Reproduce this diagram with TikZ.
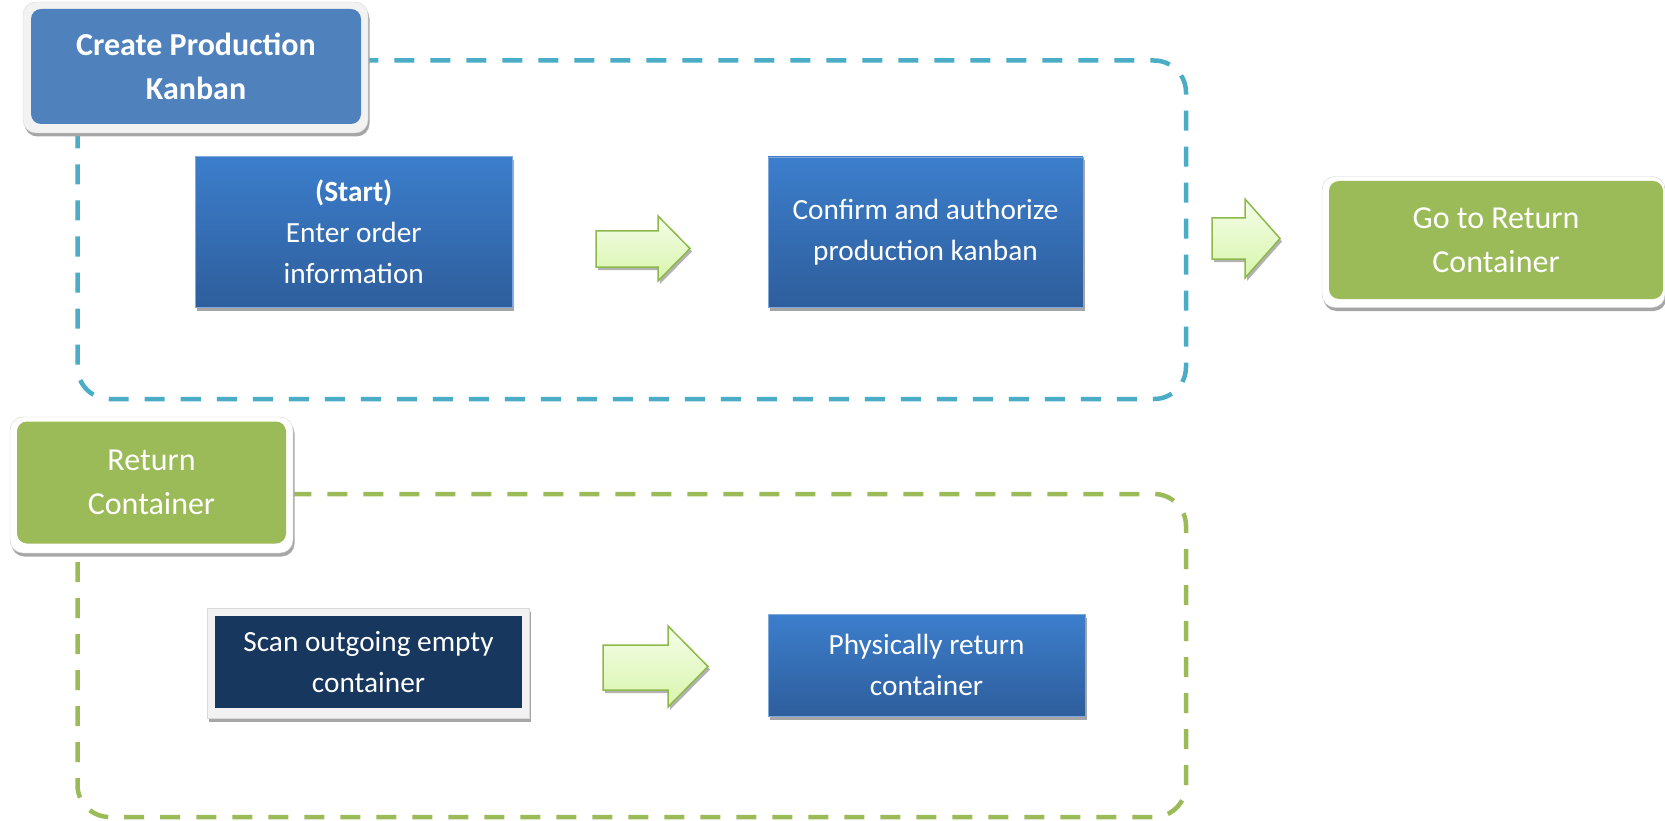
\documentclass[tikz,border=0pt]{standalone}
\usepackage{fontspec}
\setmainfont{Carlito}
\usetikzlibrary{shadows}
\definecolor{dashblue}{HTML}{4BACC6}
\definecolor{dashgreen}{HTML}{9BBB59}
\definecolor{hdrblue}{HTML}{4F81BD}
\definecolor{procTop}{HTML}{3C7ECC}
\definecolor{procBot}{HTML}{2E5E9C}
\definecolor{procEdge}{HTML}{7FA8DC}
\definecolor{navy}{HTML}{17375E}
\definecolor{framegray}{HTML}{F2F2F2}
\definecolor{arrTop}{HTML}{F4FDE8}
\definecolor{arrBot}{HTML}{D8F5AC}
\definecolor{arrEdge}{HTML}{8DB84A}
\newcommand\blockarr[7]{%
  \fill[gray!60] ({#1+2},{#4+3}) -- ({#2+2},{#4+3}) -- ({#2+2},{#6+3}) -- ({#3+2},{(#6+#7)/2+3}) -- ({#2+2},{#7+3}) -- ({#2+2},{#5+3}) -- ({#1+2},{#5+3}) -- cycle;
  \path[top color=arrTop, bottom color=arrBot, draw=arrEdge, line width=1.5pt, line join=miter]
    (#1,#4) -- (#2,#4) -- (#2,#6) -- (#3,{(#6+#7)/2}) -- (#2,#7) -- (#2,#5) -- (#1,#5) -- cycle;}
\begin{document}
\begin{tikzpicture}[x=1pt,y=-1pt,
  region/.style={line width=4.5pt, dash pattern=on 20pt off 16pt, rounded corners=32pt},
  boxshadow/.style={drop shadow={shadow xshift=1.5pt, shadow yshift=-3.5pt, fill=gray!70, opacity=1}},
  hdrframe/.style={rectangle, rounded corners=13pt, fill=framegray, draw=gray!30, boxshadow},
  whiteframe/.style={rectangle, rounded corners=13pt, fill=white, draw=gray!35, boxshadow},
  hdrbox/.style={rectangle, rounded corners=10pt, fill=hdrblue, text=white, align=center,
     font=\fontsize{32}{44}\selectfont\bfseries},
  greenbox/.style={rectangle, rounded corners=10pt, fill=dashgreen, text=white, align=center,
     font=\fontsize{32}{44}\selectfont},
  procbox/.style={rectangle, top color=procTop, bottom color=procBot, draw=procEdge, line width=0.8pt,
     text=white, align=center, font=\fontsize{29.3}{41}\selectfont, boxshadow},
  navyframe/.style={rectangle, fill=framegray, draw=gray!30, boxshadow},
  navybox/.style={rectangle, fill=navy, text=white, align=center, font=\fontsize{29.3}{41}\selectfont}
]
\useasboundingbox (0,0) rectangle (1665,821);

% dashed regions
\draw[region, dashblue] (77.5,60.5) rectangle (1186,399);
\draw[region, dashgreen] (77.5,494) rectangle (1186,817);

% header: Create Production Kanban
\node[hdrframe, minimum width=345pt, minimum height=131pt] (hf1) at (195.5,67.5) {};
\node[hdrbox, minimum width=330pt, minimum height=115pt] (hdr1) at (196,66.5) {Create Production\\Kanban};

% process boxes, top lane
\node[procbox, minimum width=316.5pt, minimum height=150.5pt] (start) at (353.75,231.75)
  {{\bfseries (Start)}\\Enter order\\information};
\node[procbox, minimum width=315pt, minimum height=150pt] (confirm) at (925.5,232)
  {Confirm and authorize\\production kanban};

% go to return container
\node[whiteframe, minimum width=343pt, minimum height=131pt] (gf) at (1493.5,242) {};
\node[greenbox, minimum width=334pt, minimum height=118pt] (goto) at (1496,240) {Go to Return\\Container};

% header: Return Container
\node[whiteframe, minimum width=283pt, minimum height=136pt] (hf2) at (151.5,485) {};
\node[greenbox, minimum width=269pt, minimum height=122pt] (ret) at (151.5,482.5) {Return\\Container};

% bottom lane
\node[navyframe, minimum width=322pt, minimum height=110pt] (sf) at (368,663) {};
\node[navybox, minimum width=307pt, minimum height=92pt] (scan) at (368.5,662) {Scan outgoing empty\\container};
\node[procbox, minimum width=317pt, minimum height=102pt] (phys) at (926.5,665) {Physically return\\container};

% block arrows
\blockarr{596}{658}{690}{231}{267}{216}{281}
\blockarr{1212}{1245}{1280}{218}{259}{199}{278}
\blockarr{603}{668}{708}{645}{690}{626}{707}
\end{tikzpicture}
\end{document}
